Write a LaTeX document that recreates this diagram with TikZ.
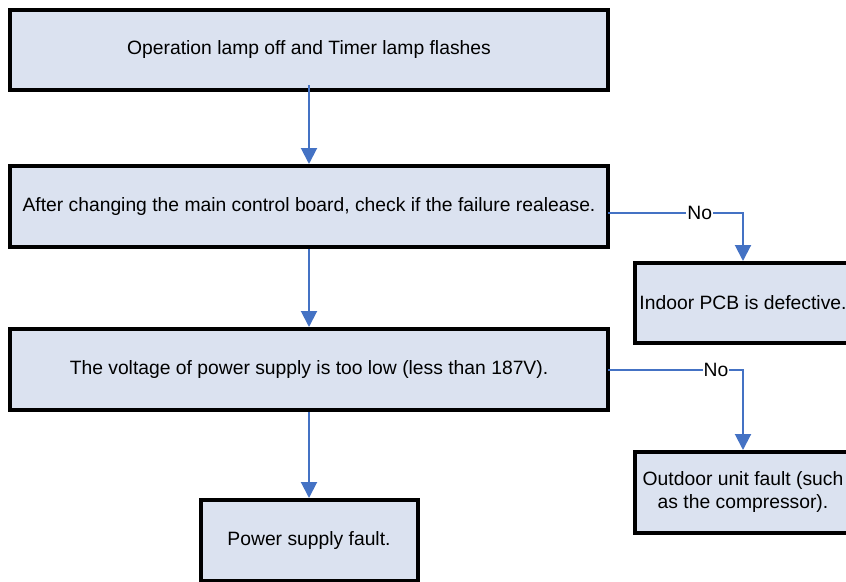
\documentclass[tikz,border=0pt]{standalone}
\usepackage{fontspec}
\setmainfont{Liberation Sans}
\usetikzlibrary{arrows.meta}
\definecolor{boxfill}{RGB}{219,226,240}
\definecolor{arrowblue}{RGB}{68,114,196}
\tikzset{
  box/.style={draw=black, line width=4pt, fill=boxfill, rectangle, inner sep=0pt,
    align=center, font=\fontsize{19.3}{23}\selectfont, text=black},
  conn/.style={draw=arrowblue, line width=2pt, -{Triangle[width=16pt,length=16pt]}},
  lbl/.style={fill=white, inner sep=1pt, font=\fontsize{19.3}{23}\selectfont, text=black}
}
\begin{document}
\begin{tikzpicture}[x=1pt,y=-1pt]
\useasboundingbox (0,0) rectangle (846,581);
\begin{scope}
\clip (0,0) rectangle (846,581);
\node[box, minimum width=598pt, minimum height=80pt] (b1) at (309,50) {Operation lamp off and Timer lamp flashes};
\node[box, minimum width=598pt, minimum height=81pt] (b2) at (309,206.5) {After changing the main control board, check if the failure realease.};
\node[box, minimum width=598pt, minimum height=81pt] (b3) at (309,369.5) {The voltage of power supply is too low (less than 187V).};
\node[box, minimum width=216pt, minimum height=80pt] (r1) at (743,303) {Indoor PCB is defective.};
\node[box, minimum width=216pt, minimum height=81pt] (r2) at (743,492.5) {Outdoor unit fault (such\\as the compressor).};
\node[box, minimum width=217pt, minimum height=81pt] (b4) at (309,540.5) {Power supply fault.};
\end{scope}
\draw[conn] ([yshift=7pt]b1.south) -- (b2.north);
\draw[conn] (b2.south) -- (b3.north);
\draw[conn] (b3.south) -- (b4.north);
\draw[conn] ([yshift=-6.5pt,xshift=-2pt]b2.east) -| node[lbl, pos=0.34] {No} (r1.north);
\draw[conn] ([xshift=-2pt]b3.east) -| node[lbl, pos=0.4] {No} (r2.north);
\end{tikzpicture}
\end{document}
